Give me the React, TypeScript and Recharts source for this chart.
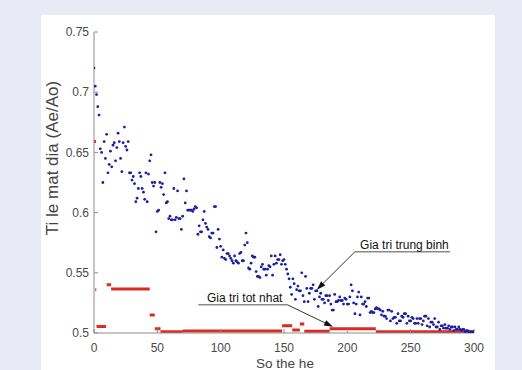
import React from 'react';
import { ComposedChart, XAxis, YAxis, Scatter, Line, ReferenceLine, Label } from 'recharts';

// Average value per generation (0..300)
const averageValues = [
  0.720, 0.705, 0.698, 0.688, 0.681, 0.653, 0.650, 0.625, 0.659, 0.645,
  0.665, 0.633, 0.640, 0.651, 0.638, 0.656, 0.658, 0.643, 0.654, 0.666,
  0.659, 0.645, 0.634, 0.658, 0.671, 0.655, 0.652, 0.659, 0.633, 0.633,
  0.627, 0.630, 0.624, 0.609, 0.612, 0.620, 0.633, 0.630, 0.620, 0.617,
  0.611, 0.633, 0.609, 0.632, 0.643, 0.648, 0.625, 0.622, 0.625, 0.584,
  0.601, 0.602, 0.625, 0.621, 0.624, 0.615, 0.633, 0.608, 0.609, 0.595,
  0.597, 0.594, 0.594, 0.620, 0.594, 0.596, 0.618, 0.595, 0.595, 0.586,
  0.597, 0.628, 0.608, 0.618, 0.602, 0.602, 0.602, 0.602, 0.601, 0.603,
  0.605, 0.604, 0.582, 0.589, 0.584, 0.584, 0.594, 0.601, 0.591, 0.588,
  0.586, 0.580, 0.579, 0.583, 0.583, 0.605, 0.605, 0.571, 0.586, 0.578,
  0.572, 0.563, 0.569, 0.562, 0.561, 0.566, 0.566, 0.564, 0.562, 0.560,
  0.558, 0.564, 0.560, 0.559, 0.558, 0.566, 0.567, 0.560, 0.560, 0.573,
  0.583, 0.575, 0.554, 0.553, 0.558, 0.564, 0.563, 0.563, 0.551, 0.547,
  0.547, 0.546, 0.555, 0.557, 0.553, 0.553, 0.548, 0.553, 0.556, 0.555,
  0.564, 0.548, 0.557, 0.564, 0.558, 0.561, 0.561, 0.565, 0.557, 0.560,
  0.561, 0.557, 0.553, 0.549, 0.545, 0.538, 0.532, 0.545, 0.541, 0.528,
  0.536, 0.539, 0.535, 0.535, 0.550, 0.531, 0.526, 0.547, 0.537, 0.526,
  0.533, 0.537, 0.537, 0.540, 0.528, 0.535, 0.535, 0.522, 0.530, 0.533,
  0.528, 0.528, 0.525, 0.531, 0.531, 0.527, 0.531, 0.524, 0.519, 0.519,
  0.532, 0.526, 0.526, 0.527, 0.530, 0.527, 0.527, 0.524, 0.529, 0.528,
  0.524, 0.524, 0.530, 0.540, 0.535, 0.525, 0.516, 0.524, 0.530, 0.534,
  0.515, 0.530, 0.524, 0.524, 0.526, 0.522, 0.529, 0.529, 0.517, 0.518,
  0.517, 0.517, 0.520, 0.521, 0.520, 0.520, 0.519, 0.515, 0.518, 0.514,
  0.514, 0.512, 0.519, 0.519, 0.510, 0.518, 0.512, 0.513, 0.513, 0.508,
  0.516, 0.510, 0.510, 0.514, 0.513, 0.516, 0.516, 0.508, 0.514, 0.510,
  0.510, 0.513, 0.512, 0.508, 0.508, 0.512, 0.508, 0.512, 0.512, 0.507,
  0.510, 0.514, 0.514, 0.506, 0.512, 0.505, 0.509, 0.509, 0.507, 0.512,
  0.505, 0.505, 0.509, 0.503, 0.506, 0.506, 0.504, 0.507, 0.504, 0.504,
  0.506, 0.503, 0.505, 0.505, 0.502, 0.505, 0.503, 0.503, 0.505, 0.503,
  0.502, 0.503, 0.503, 0.501, 0.502, 0.502, 0.501, 0.501, 0.501, 0.501,
  0.501,
];

// Best value, as constant runs over generations
const bestStarts = [0, 1, 2, 10, 13.5, 44, 48, 52.5, 70, 148.5, 156.5, 162.5, 166, 186, 222.5];
const bestEnds = [1.6, 1.8, 9.5, 13.5, 44, 48, 52.5, 70, 148.5, 156.5, 162.5, 166, 186, 222.5, 300];
const bestValues = [0.659, 0.536, 0.5055, 0.540, 0.5365, 0.515, 0.5035, 0.501, 0.5017, 0.506, 0.5025, 0.5075, 0.5015, 0.5035, 0.501];

const xTicks = [0, 50, 100, 150, 200, 250, 300];
const yTicks = [0.5, 0.55, 0.6, 0.65, 0.7, 0.75];

// Annotations: [underline start gen, underline end gen, underline level], arrow tip [gen, value]
const meanLabel = 'Gia tri trung binh';
const meanUnderline = [206, 281, 0.5675];
const meanTip = [175.9, 0.536];
const bestLabel = 'Gia tri tot nhat';
const bestUnderline = [82.3, 152.5, 0.5235];
const bestTip = [188.7, 0.5052];

const FONT = '"Liberation Sans", Arial, Helvetica, sans-serif';

const averageData = averageValues.map((v, i) => ({ x: i, y: v }));
const bestData: { x: number; y: number | null }[] = [];
bestStarts.forEach((s, i) => {
  bestData.push({ x: s, y: bestValues[i] });
  bestData.push({ x: bestEnds[i], y: bestValues[i] });
  bestData.push({ x: bestEnds[i], y: null });
});

const Dot = (p: any) => <circle cx={p.cx} cy={p.cy} r={1.4} fill="#1e1e9e" />;

const ArrowShape = (p: any) => {
  const { x1, y1, x2, y2 } = p;
  const dx = x2 - x1;
  const dy = y2 - y1;
  const len = Math.hypot(dx, dy) || 1;
  const ux = dx / len;
  const uy = dy / len;
  const hl = 9;
  const hw = 3;
  const bx = x2 - ux * hl;
  const by = y2 - uy * hl;
  const pts = `${x2},${y2} ${bx - uy * hw},${by + ux * hw} ${bx + uy * hw},${by - ux * hw}`;
  return (
    <g>
      <line x1={x1} y1={y1} x2={bx} y2={by} stroke="#333" strokeWidth={1} />
      <polygon points={pts} fill="#111" />
    </g>
  );
};

const makeUnderline = (text: string) => (p: any) => {
  const { x1, y1, x2, y2 } = p;
  return (
    <g>
      <line x1={x1} y1={y1} x2={x2} y2={y2} stroke="#8a8a8a" strokeWidth={1.6} />
      <text
        x={(x1 + x2) / 2 + 2}
        y={y1 - 3}
        textAnchor="middle"
        fontFamily={FONT}
        fontSize={12}
        fill="#111"
      >
        {text}
      </text>
    </g>
  );
};

const YLabel = (p: any) => {
  const vb = p.viewBox;
  const cx = vb.x + 18;
  const cy = vb.y + vb.height / 2 - 24.5;
  return (
    <text
      x={cx}
      y={cy}
      transform={`rotate(-90, ${cx}, ${cy})`}
      textAnchor="middle"
      dominantBaseline="central"
      fontFamily={FONT}
      fontSize={17}
      fill="#444"
    >
      Ti le mat dia (Ae/Ao)
    </text>
  );
};

const XLabel = (p: any) => {
  const vb = p.viewBox;
  return (
    <text
      x={vb.x + vb.width / 2 + 1}
      y={vb.y + 35}
      textAnchor="middle"
      fontFamily={FONT}
      fontSize={13.5}
      fill="#444"
    >
      So the he
    </text>
  );
};

export default function App() {
  return (
    <div style={{ position: 'absolute', left: 0, top: 0, width: 522, height: 370, background: '#e8ebf6', overflow: 'hidden' }}>
      <div style={{ position: 'absolute', left: 41, top: 15, width: 454, height: 355, background: '#ffffff' }} />
      <div style={{ position: 'absolute', left: 0, top: 0 }}>
        <ComposedChart width={522} height={370} margin={{ top: 32, right: 48, bottom: 7, left: 34 }}>
          <XAxis
            type="number"
            dataKey="x"
            domain={[0, 300]}
            ticks={xTicks}
            height={30}
            stroke="#8c8c8c"
            tickSize={-4}
            tickMargin={14}
            tick={{ fill: '#4a4a4a', fontSize: 12, fontFamily: FONT }}
            allowDataOverflow
          >
            <Label content={XLabel} />
          </XAxis>
          <YAxis
            type="number"
            dataKey="y"
            domain={[0.5, 0.75]}
            ticks={yTicks}
            width={60}
            stroke="#8c8c8c"
            tickSize={-4}
            tickMargin={9}
            tick={{ fill: '#4a4a4a', fontSize: 12, fontFamily: FONT }}
            allowDataOverflow
          >
            <Label content={YLabel} />
          </YAxis>
          <Line
            data={bestData}
            dataKey="y"
            type="linear"
            stroke="#dc2b20"
            strokeWidth={3}
            dot={false}
            activeDot={false}
            connectNulls={false}
            isAnimationActive={false}
          />
          <Scatter data={averageData} dataKey="y" shape={Dot} isAnimationActive={false} />
          <ReferenceLine
            segment={[{ x: meanUnderline[0], y: meanUnderline[2] }, { x: meanUnderline[1], y: meanUnderline[2] }]}
            shape={makeUnderline(meanLabel)}
          />
          <ReferenceLine
            segment={[{ x: meanUnderline[0], y: meanUnderline[2] }, { x: meanTip[0], y: meanTip[1] }]}
            shape={ArrowShape}
          />
          <ReferenceLine
            segment={[{ x: bestUnderline[0], y: bestUnderline[2] }, { x: bestUnderline[1], y: bestUnderline[2] }]}
            shape={makeUnderline(bestLabel)}
          />
          <ReferenceLine
            segment={[{ x: bestUnderline[1], y: bestUnderline[2] }, { x: bestTip[0], y: bestTip[1] }]}
            shape={ArrowShape}
          />
        </ComposedChart>
      </div>
    </div>
  );
}
